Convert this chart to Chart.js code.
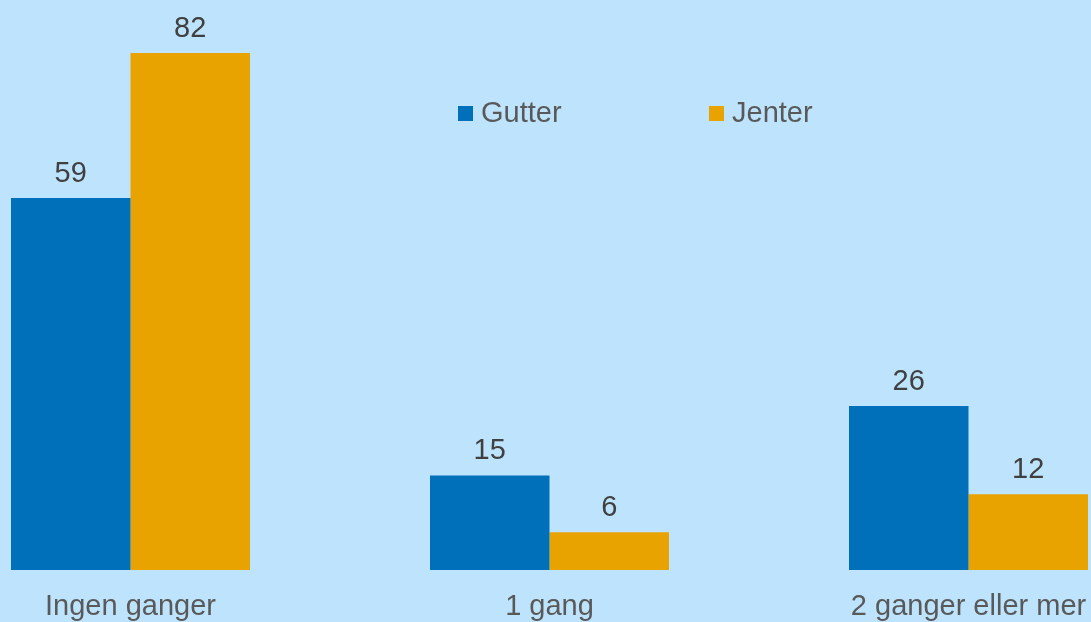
<!DOCTYPE html>
<html>
<head>
<meta charset="utf-8">
<script src="https://cdn.jsdelivr.net/npm/chart.js@4/dist/chart.umd.min.js"></script>
<style>
    html, body { margin: 0; padding: 0; width: 1091px; height: 622px; overflow: hidden; background: #BEE4FD; }
    #wrap { position: absolute; left: -79px; top: 0; }
</style>
</head>
<body>
<div id="wrap"><canvas id="chart" width="1257" height="622"></canvas></div>
<script>
// Chart data
const categories = ['Ingen ganger', '1 gang', '2 ganger eller mer'];
const gutter = [59, 15, 26];
const jenter = [82, 6, 12];

const FONT = "'Liberation Sans', Arial, sans-serif";

// Value labels above each bar
const valueLabels = {
    id: 'valueLabels',
    afterDatasetsDraw(chart) {
        const ctx = chart.ctx;
        ctx.save();
        ctx.font = '29px ' + FONT;
        ctx.fillStyle = '#404040';
        ctx.textAlign = 'center';
        ctx.textBaseline = 'alphabetic';
        chart.data.datasets.forEach((ds, i) => {
            chart.getDatasetMeta(i).data.forEach((bar, j) => {
                ctx.fillText(ds.data[j], bar.x, bar.y - 16);
            });
        });
        ctx.restore();
    }
};

// Legend sitting inside the plot, like the original
const innerLegend = {
    id: 'innerLegend',
    afterDraw(chart) {
        const ctx = chart.ctx;
        const spots = [537, 788]; // square left edges in canvas coords
        ctx.save();
        ctx.font = '29px ' + FONT;
        ctx.textBaseline = 'middle';
        chart.data.datasets.forEach((ds, i) => {
            const x = spots[i];
            ctx.fillStyle = ds.backgroundColor;
            ctx.fillRect(x, 106, 15, 15);
            ctx.fillStyle = '#595959';
            ctx.fillText(ds.label, x + 23, 114);
        });
        ctx.restore();
    }
};

const ctx = document.getElementById('chart').getContext('2d');
new Chart(ctx, {
    type: 'bar',
    data: {
        labels: categories,
        datasets: [
            { label: 'Gutter', data: gutter, backgroundColor: '#0070BA' },
            { label: 'Jenter', data: jenter, backgroundColor: '#E8A300' }
        ]
    },
    options: {
        responsive: false,
        animation: false,
        layout: { padding: 0 },
        datasets: {
            bar: { categoryPercentage: 0.5704, barPercentage: 1.0 }
        },
        plugins: {
            legend: { display: false },
            tooltip: { enabled: false }
        },
        scales: {
            x: {
                grid: { display: false, drawTicks: false },
                border: { display: false },
                ticks: {
                    color: '#595959',
                    font: { family: FONT, size: 29 },
                    padding: 20,
                    maxRotation: 0,
                    autoSkip: false
                },
                afterFit: (axis) => { axis.height = 52; }
            },
            y: {
                display: false,
                min: 0,
                max: 90.4
            }
        }
    },
    plugins: [valueLabels, innerLegend]
});
</script>
</body>
</html>
